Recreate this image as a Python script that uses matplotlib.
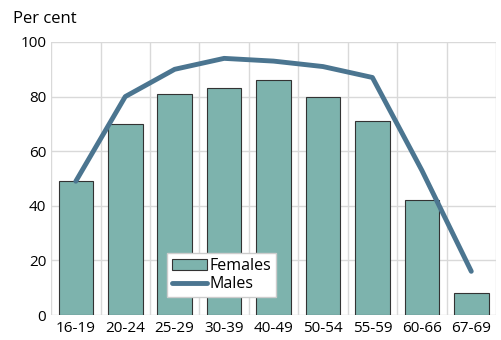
import matplotlib
matplotlib.use('Agg')
import matplotlib.pyplot as plt
import numpy as np

plt.rcParams['font.family'] = ['Open Sans', 'DejaVu Sans']

ages = ['16-19', '20-24', '25-29', '30-39', '40-49', '50-54', '55-59', '60-66', '67-69']
females = [49, 70, 81, 83, 86, 80, 71, 42, 8]
males = [49, 80, 90, 94, 93, 91, 87, 53, 16]

bar_col = '#7db3ad'
line_col = '#4b7590'
grid_col = '#d9d9d9'

fig = plt.figure(figsize=(5.01, 3.40), dpi=100)
ax = fig.add_axes([0.102, 0.0735, 0.888, 0.803])

x = np.arange(len(ages))
bars = ax.bar(x, females, width=0.7, color=bar_col, edgecolor='#333333', linewidth=0.8,
              label='Females', zorder=2)
line, = ax.plot(x, males, color=line_col, linewidth=3.5, label='Males', zorder=3,
                solid_capstyle='round')

ax.set_xlim(-0.5, len(ages) - 0.5)
ax.set_ylim(0, 100)
ax.set_yticks([0, 20, 40, 60, 80, 100])
ax.set_xticks(x)
ax.set_xticklabels(ages)
ax.set_xticks(np.arange(-0.5, len(ages)), minor=True)
ax.tick_params(axis='both', which='both', length=0, labelsize=11)
ax.tick_params(axis='x', pad=4)
ax.grid(True, axis='y', color=grid_col, linewidth=1, zorder=0)
ax.grid(True, axis='x', which='minor', color=grid_col, linewidth=1, zorder=0)
ax.set_axisbelow(True)
for s in ax.spines.values():
    s.set_visible(False)

fig.text(0.026, 0.945, 'Per cent', fontsize=12, ha='left', va='center')

leg = ax.legend([bars, line], ['Females', 'Males'], loc='lower left',
                bbox_to_anchor=(0.26, 0.065), fontsize=11.5,
                frameon=True, fancybox=False, handlelength=2.2, handletextpad=0.2,
                borderpad=0.3, labelspacing=0.15, borderaxespad=0)
leg.get_frame().set_edgecolor('#cccccc')
leg.get_frame().set_linewidth(1)
leg.get_frame().set_alpha(1)

fig.savefig('out.png', dpi=100)
